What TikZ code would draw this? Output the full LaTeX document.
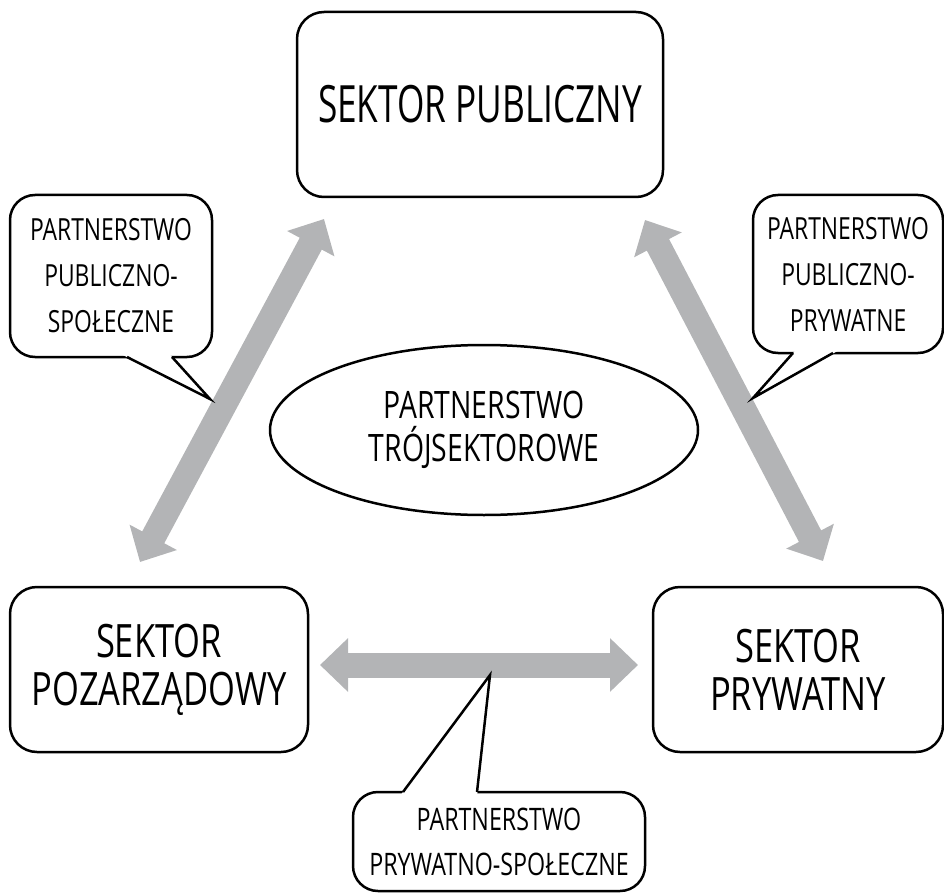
\documentclass[tikz,border=0pt]{standalone}
\usepackage{fontspec}
\setmainfont{Open Sans}[FakeStretch=0.75]
\newfontfamily\titlefont{Open Sans}[FakeStretch=0.685]
\usetikzlibrary{arrows.meta,shapes.geometric}
\definecolor{arrowgray}{RGB}{179,180,182}
\tikzset{
  boxline/.style={draw=black,line width=2.5pt,fill=white},
  sectorbox/.style={boxline,rounded corners=27pt,align=center,inner sep=0pt},
  calloutbox/.style={boxline,rounded corners=25pt,align=center,inner sep=0pt,
    font=\fontsize{30.5}{46}\selectfont},
  tailline/.style={draw=black,line width=2.5pt,line join=miter},
  bigarrow/.style={draw=arrowgray,line width=25pt,
    {Triangle[width=52pt,length=28pt]}-{Triangle[width=52pt,length=28pt]}},
}
\begin{document}
\begin{tikzpicture}[x=1pt,y=-1pt]
\useasboundingbox (0,0) rectangle (944,893);

% sector boxes
\node[sectorbox,minimum width=366,minimum height=185,font=\titlefont\fontsize{51.4}{51.4}\selectfont]
  (pub) at (480,104.5) {SEKTOR PUBLICZNY};
\node[sectorbox,minimum width=298,minimum height=165,font=\fontsize{46}{48}\selectfont]
  (ngo) at (159,669.5) {SEKTOR\\POZARZĄDOWY};
\node[sectorbox,minimum width=290,minimum height=165,font=\fontsize{46}{48}\selectfont]
  (priv) at (798,669.5) {SEKTOR\\PRYWATNY};

% central ellipse
\node[ellipse,draw=black,line width=2.5pt,minimum width=428,minimum height=170,
  inner sep=0pt,align=center,font=\fontsize{37.8}{43}\selectfont]
  (tri) at (484,430) {PARTNERSTWO\\TRÓJSEKTOROWE};

% arrow end points
\coordinate (aLt) at (324,219);
\coordinate (aLb) at (140,562);
\coordinate (aRt) at (645,220);
\coordinate (aRb) at (823,561);
\coordinate (aHl) at (320,665);
\coordinate (aHr) at (638,665);

\draw[bigarrow] (aLb) -- (aLt);
\draw[bigarrow] (aRt) -- (aRb);
\draw[bigarrow] (aHl) -- (aHr);

% callouts
\node[calloutbox,minimum width=202,minimum height=162] (cL) at (111,276)
  {PARTNERSTWO\\PUBLICZNO-\\SPOŁECZNE};
\node[calloutbox,minimum width=190,minimum height=158] (cR) at (848,274)
  {PARTNERSTWO\\PUBLICZNO-\\PRYWATNE};
\node[calloutbox,minimum width=292,minimum height=99,
  font=\fontsize{31}{45}\selectfont] (cB) at (499,841.5)
  {PARTNERSTWO\\PRYWATNO-SPOŁECZNE};

% callout tails
\coordinate (tL) at (210,399);
\coordinate (tR) at (753,398);
\coordinate (tB) at (490,675);

\fill[white] (121,354) -- (tL) -- (169.3,354) -- cycle;
\draw[tailline] (127,357) -- (tL) -- (172,357);

\fill[white] (793+2.8,350) -- (tR) -- (833+6.3,350) -- cycle;
\draw[tailline] (793,353) -- (tR) -- (833,353);

\fill[white] (403-2.2,795) -- (tB) -- (477+0.2,795) -- cycle;
\draw[tailline] (403,792) -- (tB) -- (477,792);
\end{tikzpicture}
\end{document}
